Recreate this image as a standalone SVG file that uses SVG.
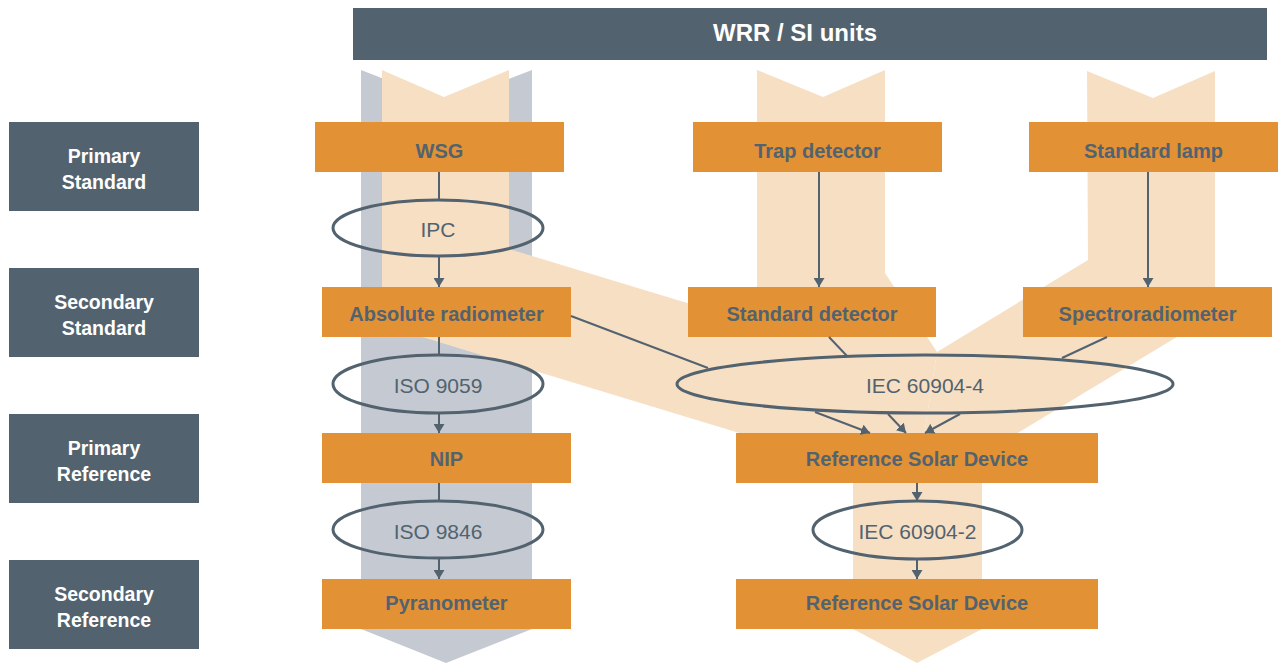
<svg xmlns="http://www.w3.org/2000/svg" width="1279" height="663" viewBox="0 0 1279 663">
<defs>
<style>
.bg{fill:#ffffff}
.gray{fill:#c5c9d1}
.peach{fill:#f7dfc4}
.hdr{fill:#52636f}
.box{fill:#e29135}
.ell{fill:none;stroke:#52636f;stroke-width:3}
.lbl{font-family:"Liberation Sans",Arial,sans-serif;font-weight:bold;font-size:19.5px;fill:#ffffff;text-anchor:middle}
.title{font-family:"Liberation Sans",Arial,sans-serif;font-weight:bold;font-size:24px;fill:#ffffff;text-anchor:middle}
.bt{font-family:"Liberation Sans",Arial,sans-serif;font-weight:bold;font-size:20px;fill:#52636f;text-anchor:middle}
.et{font-family:"Liberation Sans",Arial,sans-serif;font-size:21px;fill:#52636f;text-anchor:middle}
.con{fill:none;stroke:#52636f;stroke-width:2}
.arr{marker-end:url(#ah)}
</style>
<marker id="ah" viewBox="0 0 9 11" refX="9" refY="5.5" markerWidth="9" markerHeight="11" markerUnits="userSpaceOnUse" orient="auto">
<path d="M0,0 L9,5.5 L0,11 z" fill="#52636f"/>
</marker>
</defs>
<rect class="bg" x="0" y="0" width="1279" height="663"/>
<g id="bands">
<polygon class="gray" points="361,70 446,103 532,70 532,629 446,663 361,629"/>
<polygon class="peach" points="382,70 444,97 509,70 509,363.5 382,324.6"/>
<polygon class="peach" points="509,249 917,372.6 917,487 382,324.6"/>
<polygon class="peach" points="757,70 823,97 885,70 885,273 937,352 917,480 757,440"/>
<polygon class="peach" points="1087,71 1153,98 1215,71 1215,314 981,455 917,480 937,352 1088,260"/>
<polygon class="peach" points="853,440 982,440 982,629 917,663 853,629"/>
</g>
<g id="title">
<rect class="hdr" x="353" y="8" width="914" height="52"/>
<text class="title" x="795" y="41">WRR / SI units</text>
</g>
<g id="lbl-primary-standard">
<rect class="hdr" x="9" y="122" width="190" height="89"/>
<text class="lbl" x="104" y="162.7">Primary</text>
<text class="lbl" x="104" y="188.7">Standard</text>
</g>
<g id="lbl-secondary-standard">
<rect class="hdr" x="9" y="268" width="190" height="89"/>
<text class="lbl" x="104" y="308.7">Secondary</text>
<text class="lbl" x="104" y="334.7">Standard</text>
</g>
<g id="lbl-primary-reference">
<rect class="hdr" x="9" y="414" width="190" height="89"/>
<text class="lbl" x="104" y="454.7">Primary</text>
<text class="lbl" x="104" y="480.7">Reference</text>
</g>
<g id="lbl-secondary-reference">
<rect class="hdr" x="9" y="560" width="190" height="89"/>
<text class="lbl" x="104" y="600.7">Secondary</text>
<text class="lbl" x="104" y="626.7">Reference</text>
</g>
<g id="wsg">
<rect class="box" x="315" y="122" width="249" height="50"/>
<text class="bt" x="439.5" y="157.7">WSG</text>
</g>
<g id="trap-detector">
<rect class="box" x="693" y="122" width="249" height="50"/>
<text class="bt" x="817.5" y="157.7">Trap detector</text>
</g>
<g id="standard-lamp">
<rect class="box" x="1029" y="122" width="249" height="50"/>
<text class="bt" x="1153.5" y="157.7">Standard lamp</text>
</g>
<g id="ipc">
<ellipse class="ell" cx="438" cy="228" rx="105" ry="28"/>
<text class="et" x="438" y="237">IPC</text>
</g>
<g id="absolute-radiometer">
<rect class="box" x="322" y="287" width="249" height="50"/>
<text class="bt" x="446.5" y="321">Absolute radiometer</text>
</g>
<g id="standard-detector">
<rect class="box" x="688" y="287" width="248" height="50"/>
<text class="bt" x="812" y="321">Standard detector</text>
</g>
<g id="spectroradiometer">
<rect class="box" x="1023" y="287" width="249" height="50"/>
<text class="bt" x="1147.5" y="321">Spectroradiometer</text>
</g>
<g id="iso-9059">
<ellipse class="ell" cx="438" cy="384" rx="105" ry="29"/>
<text class="et" x="438" y="393">ISO 9059</text>
</g>
<g id="iec-60904-4">
<ellipse class="ell" cx="925" cy="384" rx="248" ry="29"/>
<text class="et" x="925" y="393">IEC 60904-4</text>
</g>
<g id="nip">
<rect class="box" x="322" y="433" width="249" height="50"/>
<text class="bt" x="446.5" y="466">NIP</text>
</g>
<g id="reference-solar-device-1">
<rect class="box" x="736" y="433" width="362" height="50"/>
<text class="bt" x="917" y="466">Reference Solar Device</text>
</g>
<g id="iso-9846">
<ellipse class="ell" cx="438" cy="529.5" rx="105" ry="28.5"/>
<text class="et" x="438" y="539">ISO 9846</text>
</g>
<g id="iec-60904-2">
<ellipse class="ell" cx="917.5" cy="530" rx="104.5" ry="29"/>
<text class="et" x="917.5" y="539">IEC 60904-2</text>
</g>
<g id="pyranometer">
<rect class="box" x="322" y="579" width="249" height="50"/>
<text class="bt" x="446.5" y="610">Pyranometer</text>
</g>
<g id="reference-solar-device-2">
<rect class="box" x="736" y="579" width="362" height="50"/>
<text class="bt" x="917" y="610">Reference Solar Device</text>
</g>
<g id="connectors">
<line class="con" x1="439" y1="172" x2="439" y2="200"/>
<line class="con arr" x1="439" y1="256" x2="439" y2="287"/>
<line class="con" x1="439" y1="337" x2="439" y2="355"/>
<line class="con arr" x1="439" y1="413" x2="439" y2="433"/>
<line class="con" x1="439" y1="483" x2="439" y2="501"/>
<line class="con arr" x1="439" y1="558" x2="439" y2="579"/>
<line class="con arr" x1="819" y1="172" x2="819" y2="287"/>
<line class="con arr" x1="1148" y1="172" x2="1148" y2="287"/>
<line class="con" x1="571" y1="316" x2="708" y2="368"/>
<line class="con" x1="829" y1="337" x2="847" y2="356"/>
<line class="con" x1="1107" y1="337" x2="1062" y2="358"/>
<line class="con arr" x1="815" y1="412" x2="870" y2="433"/>
<line class="con arr" x1="888" y1="414" x2="906" y2="433"/>
<line class="con arr" x1="960" y1="414" x2="925" y2="433"/>
<line class="con arr" x1="917" y1="483" x2="917" y2="501"/>
<line class="con arr" x1="917" y1="559" x2="917" y2="579"/>
</g>
</svg>
